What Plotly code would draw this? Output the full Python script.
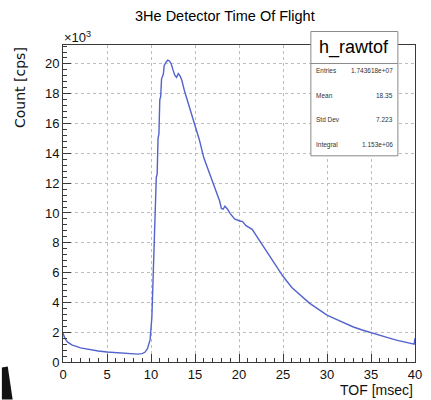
import plotly.graph_objects as go

# Time of flight bins (msec) and counting rate (cps)
tof_ms = [0.0, 0.2, 0.5, 1.0, 2.0, 3.0, 4.0, 5.0, 6.0, 7.0, 8.0, 8.5, 9.0, 9.3, 9.6, 9.9,
          10.1, 10.3, 10.4, 10.5, 10.6, 10.7, 10.8, 10.9, 11.0, 11.1, 11.2, 11.4, 11.5, 11.7,
          11.9, 12.1, 12.3, 12.5, 12.7, 12.9, 13.1, 13.3, 13.5, 13.8, 14.1, 14.4, 14.7, 15.0,
          15.5, 16.0, 16.5, 17.0, 17.5, 17.8, 18.0, 18.2, 18.4, 18.7, 19.0, 19.5, 20.0, 20.4,
          20.8, 21.2, 21.5, 22.0, 22.5, 23.0, 23.5, 24.0, 25.0, 26.0, 27.0, 28.0, 29.0, 30.0,
          31.0, 32.0, 33.0, 34.0, 35.0, 36.0, 37.0, 38.0, 39.0, 39.7, 39.9, 40.0]
count_cps = [1950, 1600, 1350, 1150, 950, 830, 740, 670, 620, 580, 540, 530, 560, 650, 900, 1500,
             3000, 7000, 9300, 9700, 12400, 12600, 15000, 15300, 17600, 17800, 19000, 19300, 19900, 20100,
             20250, 20200, 20000, 19600, 19250, 19100, 19350, 19200, 18900, 18200, 17600, 17000, 16400, 15800,
             14900, 13700, 12900, 12100, 11400, 10800, 10300, 10250, 10450, 10250, 9950, 9600, 9480, 9420,
             9150, 9000, 8900, 8450, 8000, 7500, 7050, 6600, 5750, 5000, 4450, 3950, 3550, 3150,
             2880, 2600, 2350, 2150, 1960, 1780, 1620, 1450, 1300, 1180, 1200, 1600]

x_ticks = [0, 5, 10, 15, 20, 25, 30, 35, 40]
y_ticks = [0, 2000, 4000, 6000, 8000, 10000, 12000, 14000, 16000, 18000, 20000]
y_tick_text = ["0", "2", "4", "6", "8", "10", "12", "14", "16", "18", "20"]

stats_name = "h_rawtof"
stats_labels = ["Entries", "Mean", "Std Dev", "Integral"]
stats_values = ["1.743618e+07", "18.35", "7.223", "1.153e+06"]

W, H = 431, 400
ML, MR, MT, MB = 62.5, 8.5, 45, 37.5
PW, PH = W - ML - MR, H - MT - MB


def px(x):
    return (x - ML) / PW


def py(y):
    return (H - MB - y) / PH


FONT = "Liberation Sans, Arial, Helvetica, sans-serif"

fig = go.Figure()
fig.add_trace(go.Scatter(x=tof_ms, y=count_cps, mode="lines",
                         line=dict(color="#5363cc", width=1.4), hoverinfo="skip",
                         showlegend=False))

axis_common = dict(showline=True, linecolor="#3a3a3a", linewidth=1, mirror=True,
                   ticks="inside", tickcolor="#3a3a3a", ticklen=8,
                   showgrid=True, gridcolor="#bdbdbd", griddash="dot", gridwidth=1,
                   zeroline=False,
                   tickfont=dict(family=FONT, size=13, color="#111"))

fig.update_xaxes(range=[0, 40], tickvals=x_ticks,
                 minor=dict(dtick=1, ticks="inside", ticklen=4, tickcolor="#3a3a3a", showgrid=False),
                 **axis_common)
fig.update_yaxes(range=[0, 21270], tickvals=y_ticks, ticktext=y_tick_text,
                 minor=dict(dtick=400, ticks="inside", ticklen=4, tickcolor="#3a3a3a", showgrid=False),
                 **axis_common)

shapes = []
annotations = []

# statistics box
bx0, bx1, by0, by1, bsep = 316, 405, 31.5, 156, 63.5
shapes.append(dict(type="rect", xref="paper", yref="paper",
                   x0=px(bx0), x1=px(bx1), y0=py(by1), y1=py(by0),
                   line=dict(color="#8a8a8a", width=1), fillcolor="white", layer="above"))
shapes.append(dict(type="line", xref="paper", yref="paper",
                   x0=px(bx0), x1=px(bx1), y0=py(bsep), y1=py(bsep),
                   line=dict(color="#8a8a8a", width=1), layer="above"))
annotations.append(dict(text=stats_name, xref="paper", yref="paper",
                        x=px((bx0 + bx1) / 2), y=py(47.5), xanchor="center", yanchor="middle",
                        showarrow=False, font=dict(family=FONT, size=18, color="#000")))
row_y = [71, 96, 120, 145]
for lab, val, ry in zip(stats_labels, stats_values, row_y):
    annotations.append(dict(text=lab, xref="paper", yref="paper", x=px(bx0 + 3), y=py(ry),
                            xanchor="left", yanchor="middle", showarrow=False,
                            font=dict(family=FONT, size=6.5, color="#333")))
    annotations.append(dict(text=val, xref="paper", yref="paper", x=px(bx1 - 3), y=py(ry),
                            xanchor="right", yanchor="middle", showarrow=False,
                            font=dict(family=FONT, size=6.5, color="#333")))

# title and axis labels
annotations.append(dict(text="3He Detector Time Of Flight", xref="paper", yref="paper",
                        x=px(228), y=py(16), xanchor="center", yanchor="middle", showarrow=False,
                        font=dict(family=FONT, size=14.5, color="#000")))
annotations.append(dict(text="×10<sup>3</sup>", xref="paper", yref="paper",
                        x=px(61), y=py(37), xanchor="left", yanchor="middle", showarrow=False,
                        font=dict(family=FONT, size=13, color="#111")))
annotations.append(dict(text="Count [cps]", xref="paper", yref="paper",
                        x=px(18), y=py(45), xanchor="center", yanchor="top", textangle=-90,
                        showarrow=False, font=dict(family="DejaVu Sans, sans-serif", size=14, color="#111")))
annotations.append(dict(text="TOF [msec]", xref="paper", yref="paper",
                        x=px(423), y=py(391), xanchor="right", yanchor="middle", showarrow=False,
                        font=dict(family=FONT, size=14, color="#111")))

# dark blob at lower left edge
shapes.append(dict(type="path", xref="paper", yref="paper",
                   path=f"M {px(0)},{py(368)} L {px(6)},{py(367)} L {px(11)},{py(400)} L {px(0)},{py(400)} Z",
                   fillcolor="#111", line=dict(width=0), layer="above"))

fig.update_layout(width=W, height=H, margin=dict(l=ML, r=MR, t=MT, b=MB),
                  paper_bgcolor="white", plot_bgcolor="white",
                  shapes=shapes, annotations=annotations, showlegend=False)

fig.write_html("out.html")
